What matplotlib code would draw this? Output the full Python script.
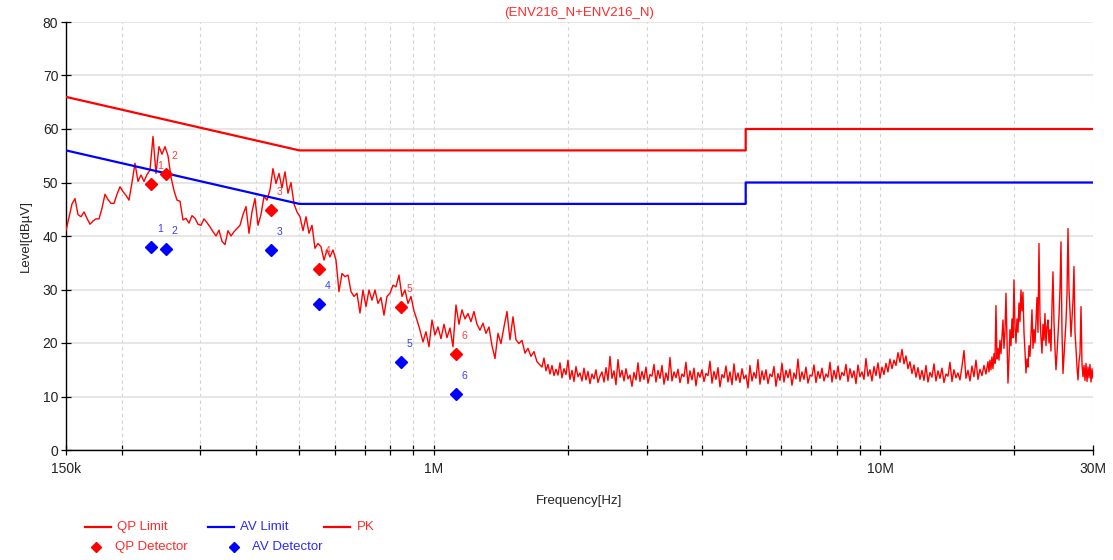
import numpy as np
import matplotlib
matplotlib.use("Agg")
import matplotlib.pyplot as plt
from matplotlib.lines import Line2D

plt.rcParams['font.family'] = ['Liberation Sans', 'DejaVu Sans']

# ---------------- data ----------------
TITLE = "(ENV216_N+ENV216_N)"

QP_LIMIT_F = [150e3, 500e3, 500e3, 5e6, 5e6, 30e6]
QP_LIMIT_L = [66, 56, 56, 56, 60, 60]
AV_LIMIT_F = [150e3, 500e3, 500e3, 5e6, 5e6, 30e6]
AV_LIMIT_L = [56, 46, 46, 46, 50, 50]

DET_F = [233e3, 251e3, 433e3, 554e3, 843e3, 1.12e6]
QP_DET = [49.7, 51.6, 44.9, 33.8, 26.7, 17.9]
AV_DET = [37.9, 37.6, 37.4, 27.3, 16.4, 10.4]
DET_LABELS = ["1", "2", "3", "4", "5", "6"]

# PK trace, sweep 1 (150 kHz .. 1.73 MHz)
PK_A_START, PK_A_END = 150e3, 1.73e6
PK_LEVEL_A = [
    41.0, 43.5, 46.0, 47.0, 44.0, 43.6, 44.5, 43.3, 42.2, 42.8,
    43.2, 43.2, 45.2, 47.8, 46.8, 46.1, 46.1, 47.8, 49.2, 48.3,
    47.6, 46.7, 50.0, 53.6, 50.2, 51.4, 50.2, 51.5, 52.3, 58.6,
    51.7, 56.7, 55.3, 56.7, 55.0, 51.0, 48.5, 46.7, 46.5, 43.0,
    43.3, 42.4, 43.8, 43.3, 42.2, 42.0, 43.2, 42.5, 41.7, 40.8,
    40.0, 41.1, 39.0, 38.4, 41.0, 40.0, 40.8, 41.4, 42.0, 44.0,
    45.5, 40.5, 44.5, 47.0, 42.0, 44.0, 47.4, 46.7, 48.6, 52.6,
    49.8, 51.7, 49.0, 52.0, 48.0, 50.0, 46.0, 44.5, 43.6, 41.0,
    43.6, 40.5, 42.0, 37.7, 38.6, 38.0, 35.5, 37.4, 36.1, 37.4,
    35.5, 29.6, 33.0, 32.4, 32.7, 29.6, 28.7, 29.3, 25.6, 29.9,
    26.8, 29.9, 28.0, 29.9, 27.4, 28.5, 25.2, 28.7, 29.3, 30.8,
    30.5, 32.7, 28.7, 29.9, 27.4, 28.7, 26.0, 24.3, 22.4, 20.2,
    22.1, 19.3, 24.3, 21.5, 23.0, 20.8, 23.5, 21.0, 22.8, 19.3,
    27.1, 23.5, 26.2, 24.5, 25.5, 24.0, 25.9, 23.5, 22.4, 23.7,
    21.8, 23.0, 19.5, 17.1, 21.8, 19.9, 23.0, 25.9, 20.6, 24.9,
    20.6, 19.9, 20.5, 18.1, 19.0, 17.5, 18.4, 16.5, 15.9,
]

# PK trace, sweep 2 (1.75 MHz .. 17.45 MHz)
PK_B_START, PK_B_END = 1.748e6, 17.45e6
PK_LEVEL_B = [
    15.5, 17.2, 14.8, 16.0, 14.2, 15.8, 13.9, 15.1, 14.0, 16.3,
    13.5, 15.2, 14.1, 16.8, 13.2, 14.9, 12.8, 15.6, 13.7, 14.4,
    12.9, 15.3, 13.1, 14.7, 12.4, 14.2, 13.3, 15.0, 12.6, 13.8,
    14.6, 12.7, 15.4, 13.0, 17.5, 13.4, 14.8, 12.2, 16.9, 13.6,
    14.9, 12.9, 15.2, 13.3, 14.0, 11.9, 14.5, 13.1, 16.3, 12.8,
    14.7, 13.2, 15.5, 12.5, 14.1, 13.8, 16.0, 12.7, 14.9, 13.4,
    15.8, 12.3, 14.4, 13.0, 17.3, 12.9, 14.6, 13.5, 15.1, 12.6,
    14.2, 13.7, 16.4, 12.4, 14.8, 13.1, 15.3, 12.0, 14.5, 13.6,
    15.0, 12.8, 14.3, 13.9, 16.6, 12.5, 14.7, 13.2, 15.4, 11.8,
    14.1, 13.5, 15.7, 12.7, 14.6, 12.2, 16.1, 13.0, 14.4, 12.6,
    15.2, 13.3, 14.0, 11.6, 15.8, 12.9, 14.5, 13.4, 16.9, 12.3,
    14.8, 13.1, 15.0, 12.4, 14.2, 13.7, 15.6, 11.9, 14.3, 13.0,
    16.2, 12.7, 14.9, 13.5, 15.1, 12.1, 14.4, 13.3, 17.0, 12.8,
    14.6, 13.2, 15.5, 12.5, 14.0, 13.8, 15.9, 12.6, 14.7, 13.4,
    15.3, 12.9, 14.2, 13.6, 16.4, 12.7, 14.9, 13.3, 15.7, 13.1,
    14.5, 13.9, 16.0, 12.8, 15.2, 13.5, 14.8, 12.4, 15.9, 13.7,
    14.6, 13.2, 17.1, 13.8, 15.0, 12.9, 15.6, 13.9, 16.3, 13.4,
    15.5, 14.1, 16.2, 14.6, 17.0, 15.2, 16.8, 15.8, 18.2, 16.4,
    18.8, 16.1, 17.6, 15.2, 16.5, 14.3, 15.9, 13.6, 15.4, 13.2,
    14.9, 13.0, 15.8, 12.7, 14.5, 13.6, 16.1, 12.9, 14.8, 13.4,
    15.3, 12.6, 14.2, 13.8, 16.4, 12.8, 15.0, 13.5, 14.4, 13.1,
    15.6, 18.6, 13.4, 14.9, 12.9, 15.7, 13.7, 16.8, 13.2, 15.1,
    13.9, 15.8, 14.2, 16.5,
]

# PK trace, sweep 3 (17.54 MHz .. 30 MHz)
PK_C_START, PK_C_END = 17.54e6, 30e6
PK_LEVEL_C = [
    14.6, 16.8, 15.0, 17.4, 15.2, 18.0, 16.2, 27.0, 17.0, 19.0,
    16.8, 20.5, 18.0, 21.2, 24.3, 19.0, 22.0, 29.3, 20.5, 12.5,
    17.0, 22.5, 19.5, 24.5, 21.0, 31.8, 23.0, 20.0, 24.5, 22.0,
    27.5, 24.0, 29.9, 26.0, 29.5, 22.0, 18.5, 14.4, 17.0, 15.5,
    19.5, 17.5, 21.5, 26.2, 19.0, 22.5, 20.0, 24.0, 28.5, 22.0,
    38.6, 25.0, 21.0, 18.1, 23.5, 20.5, 25.5, 19.5, 23.0, 24.3,
    20.0, 22.5, 18.5, 27.0, 33.3, 24.0, 19.0, 15.0, 18.0, 21.5,
    25.0, 30.0, 38.9, 22.0, 14.3, 17.5, 21.0, 24.0, 29.0, 41.4,
    30.0, 26.0, 21.2, 24.5, 28.0, 34.3, 22.0, 19.0, 15.5, 13.1,
    16.5, 18.0, 26.8, 16.0, 13.7, 15.8, 13.0, 16.2, 12.8, 15.5,
    13.5, 16.0, 12.7, 15.2, 13.4,
]

XTICK_F = [150e3, 200e3, 300e3, 400e3, 500e3, 600e3, 700e3, 800e3, 900e3,
           1e6, 2e6, 3e6, 4e6, 5e6, 6e6, 7e6, 8e6, 9e6, 10e6, 20e6, 30e6]
XTICK_LABELS = ['150k', '', '', '', '', '', '', '', '', '1M',
                '', '', '', '', '', '', '', '', '10M', '', '30M']
YTICKS = [0, 10, 20, 30, 40, 50, 60, 70, 80]

# ---------------- figure ----------------
W, H = 1113, 560
fig = plt.figure(figsize=(W / 100, H / 100), dpi=100)
ax = fig.add_axes([66 / W, 1 - 450 / H, 1027 / W, 428 / H])

RED = '#ff0000'
BLUE = '#0000ff'

pk_f = np.concatenate([
    np.geomspace(PK_A_START, PK_A_END, len(PK_LEVEL_A)),
    np.geomspace(PK_B_START, PK_B_END, len(PK_LEVEL_B)),
    np.geomspace(PK_C_START, PK_C_END, len(PK_LEVEL_C)),
])
pk_l = np.concatenate([PK_LEVEL_A, PK_LEVEL_B, PK_LEVEL_C])

ax.plot(pk_f, pk_l, color=RED, lw=1.0, zorder=3)
ax.plot(QP_LIMIT_F, QP_LIMIT_L, color=RED, lw=1.6, zorder=4)
ax.plot(AV_LIMIT_F, AV_LIMIT_L, color=BLUE, lw=1.6, zorder=4)
ax.plot(DET_F, QP_DET, ls='none', marker='D', ms=6.5, color=RED, zorder=6)
ax.plot(DET_F, AV_DET, ls='none', marker='D', ms=6.5, color=BLUE, zorder=6)

for f, q, a, lbl in zip(DET_F, QP_DET, AV_DET, DET_LABELS):
    ax.annotate(lbl, (f, q), xytext=(6, 13), textcoords='offset points',
                ha='center', va='center', fontsize=7.5, color='#ff3b3b', zorder=7)
    ax.annotate(lbl, (f, a), xytext=(6, 13), textcoords='offset points',
                ha='center', va='center', fontsize=7.5, color='#3b3bff', zorder=7)

ax.set_xscale('log')
ax.set_xlim(150e3, 30e6)
ax.set_ylim(0, 80)
ax.set_xticks(XTICK_F)
ax.set_xticklabels(XTICK_LABELS)
ax.xaxis.set_minor_locator(matplotlib.ticker.NullLocator())
ax.set_yticks(YTICKS)
ax.set_yticklabels([str(v) for v in YTICKS])

ax.tick_params(axis='x', direction='inout', length=7, width=0.9,
               labelsize=10, pad=5, colors='black', labelcolor='#222222')
ax.tick_params(axis='y', direction='inout', length=7, width=0.9,
               labelsize=10, pad=2, colors='black', labelcolor='#222222')

ax.yaxis.grid(True, color='#e2e2e2', lw=1.2, ls='-')
ax.xaxis.grid(True, color='#d2d2d2', lw=0.8, ls=(0, (3, 3)))
ax.set_axisbelow(True)

for s in ['top', 'right']:
    ax.spines[s].set_visible(False)
for s in ['left', 'bottom']:
    ax.spines[s].set_color('black')
    ax.spines[s].set_linewidth(1.0)

ax.set_xlabel('Frequency[Hz]', fontsize=9.5, color='#222222', labelpad=14)
ax.set_ylabel('Level[dBµV]', fontsize=9.5, color='#222222', labelpad=8)
ax.set_title(TITLE, fontsize=9.5, color='#ff2a2a', pad=4)

# ---------------- legend (manual) ----------------
def fx(px):
    return px / W

def fy(py):
    return 1 - py / H

LEG_FS = 9.5
fig.add_artist(Line2D([fx(85), fx(111)], [fy(527), fy(527)], color=RED, lw=1.6))
fig.text(fx(117), fy(527), 'QP Limit', color='#ff2a2a', fontsize=LEG_FS, va='center')
fig.add_artist(Line2D([fx(208), fx(234)], [fy(527), fy(527)], color=BLUE, lw=1.6))
fig.text(fx(240), fy(527), 'AV Limit', color='#2a2aff', fontsize=LEG_FS, va='center')
fig.add_artist(Line2D([fx(324), fx(350)], [fy(527), fy(527)], color=RED, lw=1.6))
fig.text(fx(357), fy(527), 'PK', color='#ff2a2a', fontsize=LEG_FS, va='center')
fig.add_artist(Line2D([fx(96)], [fy(547)], color=RED, marker='D', ms=5.5, ls='none'))
fig.text(fx(115), fy(547), 'QP Detector', color='#ff2a2a', fontsize=LEG_FS, va='center')
fig.add_artist(Line2D([fx(234)], [fy(547)], color=BLUE, marker='D', ms=5.5, ls='none'))
fig.text(fx(252), fy(547), 'AV Detector', color='#2a2aff', fontsize=LEG_FS, va='center')

fig.savefig('out.png', dpi=100, facecolor='white')
